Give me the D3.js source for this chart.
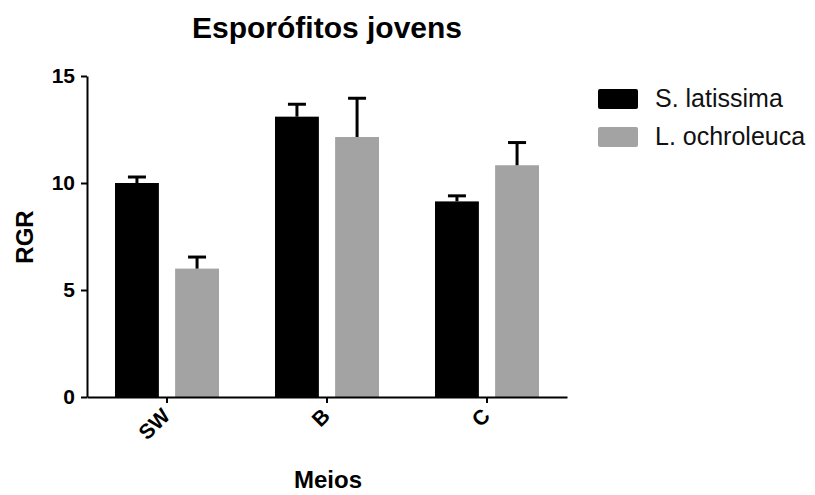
<!DOCTYPE html>
<html>
<head>
<meta charset="utf-8">
<script src="https://cdn.jsdelivr.net/npm/d3@7"></script>
<style>
  body { margin: 0; background: #fff; }
  svg text { font-family: "Liberation Sans", Arial, sans-serif; }
</style>
</head>
<body>
<svg id="chart" width="815" height="495"></svg>
<script>
// Growth rate (RGR) of young sporophytes per medium
const categories = ["SW", "B", "C"];
const seriesNames = ["S. latissima", "L. ochroleuca"];
const latissimaMean = [10.0, 13.1, 9.14];
const latissimaErr = [0.28, 0.58, 0.26];
const ochroleucaMean = [6.0, 12.15, 10.83];
const ochroleucaErr = [0.54, 1.81, 1.06];
const yTicks = [0, 5, 10, 15];
const colors = ["#000000", "#a3a3a3"];

const svg = d3.select("#chart");
const plotLeft = 87, plotRight = 567, plotTop = 76, plotBottom = 397;

const x = d3.scaleBand().domain(categories).range([plotLeft, plotRight]).paddingInner(0.35).paddingOuter(0.175);
const xs = d3.scaleBand().domain(seriesNames).range([0, x.bandwidth()]).paddingInner(0.27);
const y = d3.scaleLinear().domain([0, 15]).range([plotBottom, plotTop]);

const rows = [];
categories.forEach((c, i) => {
  rows.push({ cat: c, s: seriesNames[0], v: latissimaMean[i], e: latissimaErr[i], col: colors[0] });
  rows.push({ cat: c, s: seriesNames[1], v: ochroleucaMean[i], e: ochroleucaErr[i], col: colors[1] });
});

// Bars
svg.append("g").selectAll("rect").data(rows).join("rect")
  .attr("x", d => x(d.cat) + xs(d.s))
  .attr("width", xs.bandwidth())
  .attr("y", d => y(d.v))
  .attr("height", d => y(0) - y(d.v))
  .attr("fill", d => d.col);

// Upper error bars
const eb = svg.append("g").attr("stroke", "#000").attr("stroke-width", 3);
rows.forEach(d => {
  const cx = x(d.cat) + xs(d.s) + xs.bandwidth() / 2;
  eb.append("line").attr("x1", cx).attr("x2", cx).attr("y1", y(d.v)).attr("y2", y(d.v + d.e));
  eb.append("line").attr("x1", cx - 9).attr("x2", cx + 9).attr("y1", y(d.v + d.e)).attr("y2", y(d.v + d.e));
});

// Y axis
const yAxis = svg.append("g").attr("transform", `translate(${plotLeft},0)`)
  .call(d3.axisLeft(y).tickValues(yTicks).tickSize(6).tickSizeOuter(0).tickPadding(6));
yAxis.select(".domain").attr("stroke-width", 2);
yAxis.selectAll(".tick line").attr("stroke-width", 2);
yAxis.selectAll("text").attr("font-size", 21).attr("font-weight", "bold").attr("fill", "#000");

// X axis
const xAxis = svg.append("g").attr("transform", `translate(0,${plotBottom})`)
  .call(d3.axisBottom(x).tickSize(6).tickSizeOuter(0).tickPadding(6));
xAxis.select(".domain").attr("stroke-width", 2);
xAxis.selectAll(".tick line").attr("stroke-width", 2);
xAxis.selectAll("text")
  .attr("font-size", 21).attr("font-weight", "bold").attr("fill", "#000")
  .attr("text-anchor", "end")
  .attr("dy", "0.35em")
  .attr("transform", "translate(-1,15) rotate(-45)")
  .attr("x", 0).attr("y", 0);

// Titles
svg.append("text").attr("x", 327).attr("y", 38).attr("text-anchor", "middle")
  .attr("font-size", 30).attr("font-weight", "bold").text("Esporófitos jovens");
svg.append("text").attr("x", 328).attr("y", 488).attr("text-anchor", "middle")
  .attr("font-size", 24).attr("font-weight", "bold").text("Meios");
svg.append("text").attr("transform", "translate(33,237) rotate(-90)").attr("text-anchor", "middle")
  .attr("font-size", 24).attr("font-weight", "bold").text("RGR");

// Legend
const lg = svg.append("g").attr("transform", "translate(598,89)");
seriesNames.forEach((s, i) => {
  const g = lg.append("g").attr("transform", `translate(0,${i * 38})`);
  g.append("rect").attr("width", 40).attr("height", 20).attr("rx", 2).attr("fill", colors[i]);
  g.append("text").attr("x", 57).attr("y", 18).attr("font-size", 25).attr("fill", "#111").text(s);
});
</script>
</body>
</html>
